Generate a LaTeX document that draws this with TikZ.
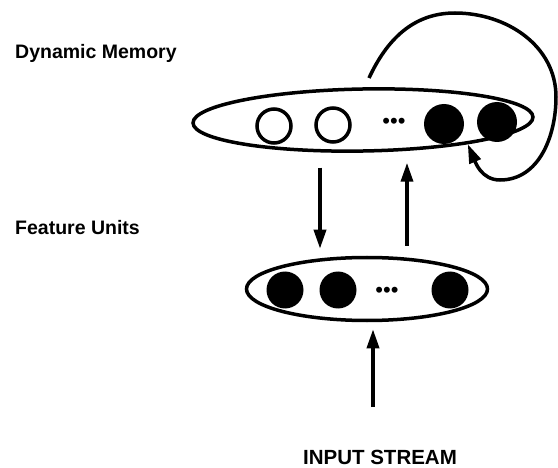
\documentclass[tikz,border=0pt]{standalone}
\usepackage{fontspec}
\setmainfont{Liberation Sans}
\usetikzlibrary{shapes.geometric,arrows.meta}
\tikzstyle{layer} = [draw=black, line width=3.5pt, ellipse, inner sep=0pt]
\tikzstyle{openunit} = [draw=black, line width=3.5pt, circle, minimum size=34pt, inner sep=0pt]
\tikzstyle{fullunit} = [fill=black, circle, minimum size=40pt, inner sep=0pt]
\tikzstyle{unitdots} = [inner sep=0pt, font=\fontsize{22}{22}\selectfont]
\tikzstyle{title} = [font=\bfseries\fontsize{19.5}{20}\selectfont, inner sep=0pt]
\tikzstyle{arr} = [line width=3.5pt, -{Triangle[length=19pt, width=12pt]}]

\begin{document}
\begin{tikzpicture}[x=1pt, y=1pt]
    \useasboundingbox (0,0) rectangle (558,467);
    \node[title, anchor=west] (memlabel) at (15,414) {Dynamic Memory};
    \node[title, anchor=west] (featlabel) at (15,239) {Feature Units};

    \node[layer, rotate=1, minimum width=340pt, minimum height=62pt] (mem) at (363,347) {};
    \node[openunit] (m1) at (274,341) {};
    \node[openunit] (m2) at (333,342) {};
    \node[unitdots] (mdots) at (394,344) {\textbullet\textbullet\textbullet};
    \node[fullunit] (m3) at (444,343) {};
    \node[fullunit] (m4) at (497,345) {};

    \node[layer, minimum width=241pt, minimum height=63pt] (feat) at (367,178) {};
    \node[fullunit, minimum size=37pt] (f1) at (285,177) {};
    \node[fullunit, minimum size=37pt] (f2) at (338,177) {};
    \node[unitdots] (fdots) at (387,175) {\textbullet\textbullet\textbullet};
    \node[fullunit, minimum size=37pt] (f3) at (450,177) {};

    \coordinate (dn) at (320,0);
    \coordinate (up) at (407,0);
    \coordinate (src) at (373,60);
    \coordinate (loopstart) at (369,389);
    \draw[arr, shorten <=15pt, shorten >=7pt] (mem.south -| dn) -- (feat.north -| dn);
    \draw[arr, shorten <=10pt, shorten >=10pt] (feat.north -| up) -- (mem.south -| up);
    \draw[arr, shorten >=7pt] (src) -- (feat.south -| src);
    \draw[arr] (loopstart) to[out=65, in=180] (455,454) to[out=0, in=90] (556,370)
        to[out=-90, in=0] (500,287) to[out=180, in=-67] (mem.-14);

    \node[font=\bfseries\fontsize{20.5}{21}\selectfont, inner sep=0pt] (input) at (380,10) {INPUT STREAM};
\end{tikzpicture}
\end{document}
